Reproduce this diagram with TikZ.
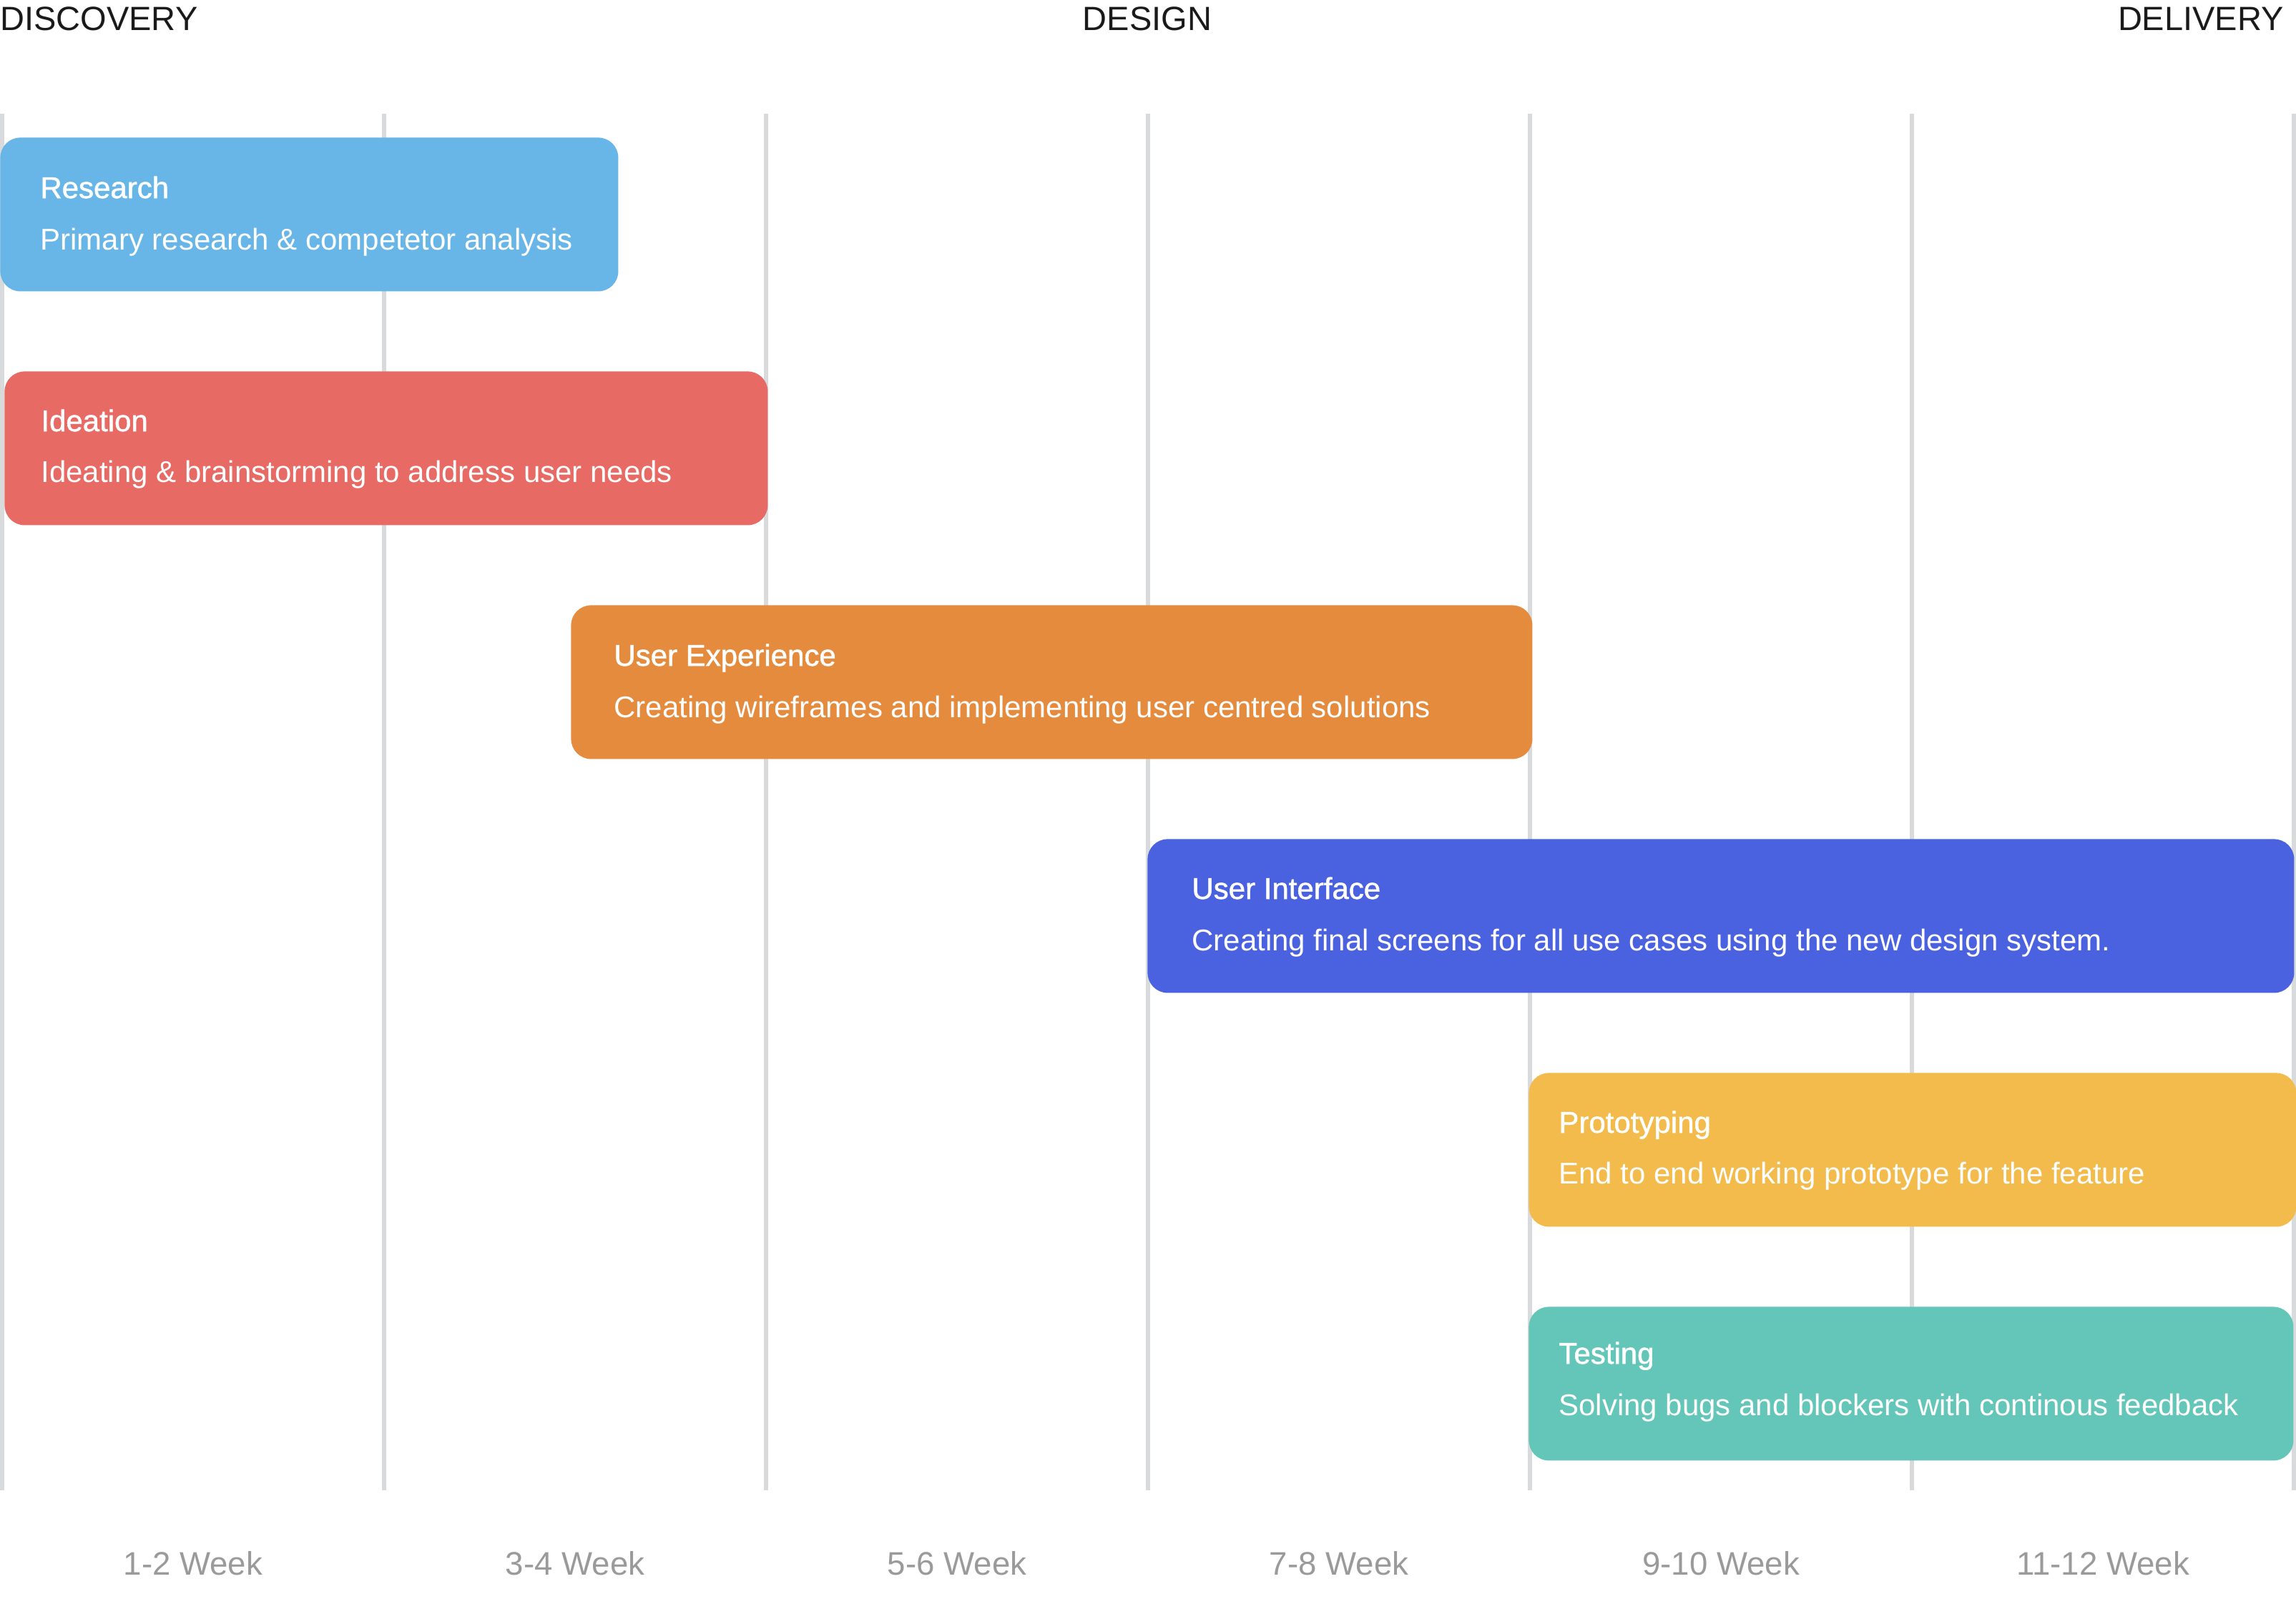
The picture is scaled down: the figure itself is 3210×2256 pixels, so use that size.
\documentclass[tikz,border=0pt]{standalone}
\usepackage{fontspec}
\setmainfont{Liberation Sans}
\newfontfamily\medfont[FakeBold=1.2]{Liberation Sans}
\definecolor{gridgray}{HTML}{D9DADC}
\definecolor{cresearch}{HTML}{68B6E7}
\definecolor{cideation}{HTML}{E76A64}
\definecolor{cux}{HTML}{E58B3E}
\definecolor{cui}{HTML}{4B62E0}
\definecolor{cproto}{HTML}{F2BB4C}
\definecolor{ctesting}{HTML}{63C6B8}
\definecolor{weekgray}{HTML}{9A9A9A}
\definecolor{headdark}{HTML}{1A1A1A}
\begin{document}
\begin{tikzpicture}[x=0.5pt,y=-0.5pt,
  gridline/.style={draw=gridgray,line width=3pt},
  phasebar/.style={rounded corners=14pt,inner sep=0pt,anchor=north west,minimum height=107.5pt},
  phasetitle/.style={anchor=base west,inner sep=0pt,text=white,font=\medfont\fontsize{21}{25}\selectfont},
  phasetext/.style={anchor=base west,inner sep=0pt,text=white,font=\fontsize{21}{25}\selectfont},
  headlabel/.style={anchor=base,inner sep=0pt,text=headdark,font=\fontsize{23.5}{28}\selectfont},
  weeklabel/.style={anchor=base,inner sep=0pt,text=weekgray,font=\fontsize{22.8}{27}\selectfont}]
\useasboundingbox (0,0) rectangle (3210,2256);
% grid lines
\foreach \i/\x in {0/3,1/537,2/1071,3/1605,4/2139,5/2673,6/3207}{
  \coordinate (gt\i) at (\x,159);
  \coordinate (gb\i) at (\x,2084);
  \draw[gridline] (gt\i) -- (gb\i);
}
% headings
\node[headlabel,anchor=base west] (hdisc) at (0,42) {DISCOVERY};
\node[headlabel] (hdes) at (1604,42) {DESIGN};
\node[headlabel,anchor=base east] (hdel) at (3193,42) {DELIVERY};
% week labels
\node[weeklabel] (w1) at (270,2202) {1-2 Week};
\node[weeklabel] (w2) at (804,2202) {3-4 Week};
\node[weeklabel] (w3) at (1338,2202) {5-6 Week};
\node[weeklabel] (w4) at (1872,2202) {7-8 Week};
\node[weeklabel] (w5) at (2406,2202) {9-10 Week};
\node[weeklabel] (w6) at (2940,2202) {11-12 Week};
% phases
\node[phasebar,fill=cresearch,minimum width=432pt] (research) at (0,192) {};
\node[phasetitle] (researcht) at (56,277) {Research};
\node[phasetext] (researchd) at (56,349) {Primary research \& competetor analysis};

\node[phasebar,fill=cideation,minimum width=533.5pt] (ideation) at (6,519) {};
\node[phasetitle] (ideationt) at (57,603) {Ideation};
\node[phasetext] (ideationd) at (57,674) {Ideating \& brainstorming to address user needs};

\node[phasebar,fill=cux,minimum width=672pt] (ux) at (798,846) {};
\node[phasetitle] (uxt) at (858,931) {User Experience};
\node[phasetext] (uxd) at (858,1003) {Creating wireframes and implementing user centred solutions};

\node[phasebar,fill=cui,minimum width=801.5pt] (ui) at (1604,1173) {};
\node[phasetitle] (uit) at (1666,1257) {User Interface};
\node[phasetext] (uid) at (1666,1329) {Creating final screens for all use cases using the new design system.};

\node[phasebar,fill=cproto,minimum width=536.5pt] (proto) at (2137,1500) {};
\node[phasetitle] (protot) at (2179,1584) {Prototyping};
\node[phasetext] (protod) at (2179,1655) {End to end working prototype for the feature};

\node[phasebar,fill=ctesting,minimum width=534.5pt] (testing) at (2137,1827) {};
\node[phasetitle] (testingt) at (2179,1907) {Testing};
\node[phasetext] (testingd) at (2179,1979) {Solving bugs and blockers with continous feedback};
\end{tikzpicture}
\end{document}
